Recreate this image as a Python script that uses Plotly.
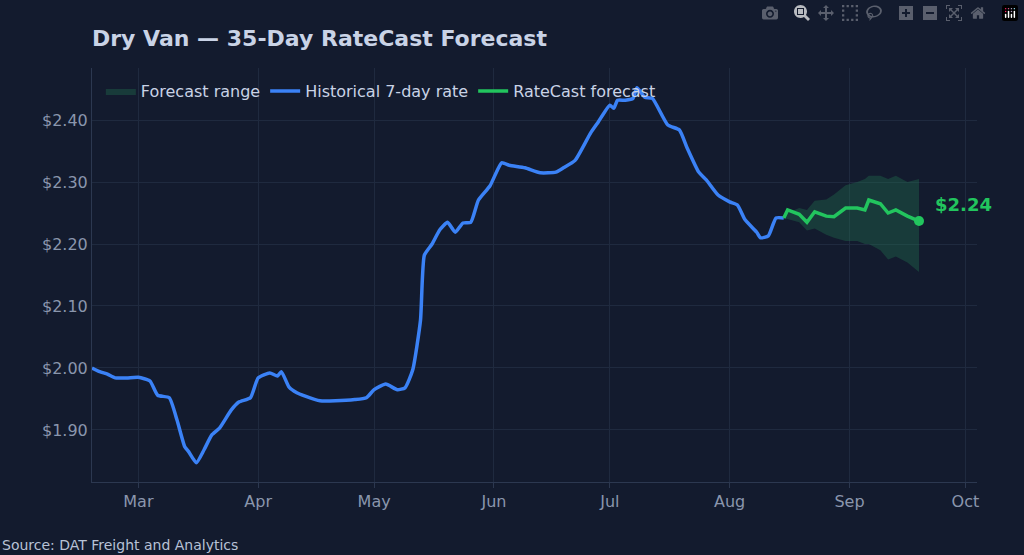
import plotly.graph_objects as go

hist_dates = ["2024-02-18","2024-02-20","2024-02-22","2024-02-24","2024-02-27","2024-03-01","2024-03-04","2024-03-06","2024-03-09","2024-03-11","2024-03-13","2024-03-14","2024-03-16","2024-03-18","2024-03-20","2024-03-22","2024-03-25","2024-03-27","2024-03-30","2024-04-01","2024-04-04","2024-04-06","2024-04-07","2024-04-09","2024-04-11","2024-04-13","2024-04-17","2024-04-21","2024-04-26","2024-04-29","2024-05-01","2024-05-04","2024-05-07","2024-05-09","2024-05-11","2024-05-13","2024-05-14","2024-05-16","2024-05-18","2024-05-20","2024-05-22","2024-05-24","2024-05-26","2024-05-28","2024-05-31","2024-06-03","2024-06-05","2024-06-09","2024-06-13","2024-06-17","2024-06-19","2024-06-22","2024-06-26","2024-06-28","2024-07-01","2024-07-02","2024-07-03","2024-07-05","2024-07-07","2024-07-08","2024-07-10","2024-07-12","2024-07-16","2024-07-19","2024-07-21","2024-07-24","2024-07-26","2024-07-29","2024-08-01","2024-08-03","2024-08-05","2024-08-08","2024-08-09","2024-08-11","2024-08-13","2024-08-15"]
hist_vals = [2.00,1.994,1.99,1.984,1.984,1.985,1.979,1.956,1.952,1.916,1.873,1.865,1.847,1.868,1.892,1.903,1.932,1.945,1.952,1.984,1.992,1.987,1.994,1.969,1.96,1.955,1.947,1.947,1.949,1.952,1.965,1.974,1.965,1.968,1.997,2.077,2.182,2.20,2.223,2.235,2.219,2.234,2.235,2.271,2.294,2.331,2.327,2.323,2.315,2.316,2.323,2.335,2.379,2.397,2.424,2.419,2.432,2.432,2.435,2.452,2.437,2.435,2.392,2.384,2.355,2.316,2.303,2.279,2.268,2.263,2.239,2.219,2.21,2.213,2.242,2.242]

fc_dates = ["2024-08-15","2024-08-16","2024-08-19","2024-08-21","2024-08-23","2024-08-26","2024-08-28","2024-08-31","2024-09-03","2024-09-05","2024-09-06","2024-09-09","2024-09-11","2024-09-13","2024-09-16","2024-09-19"]
fc_vals = [2.242,2.255,2.248,2.235,2.252,2.245,2.244,2.258,2.258,2.255,2.271,2.265,2.25,2.255,2.245,2.237]
fc_upper = [2.242,2.25,2.258,2.255,2.27,2.272,2.28,2.295,2.30,2.305,2.31,2.31,2.305,2.31,2.30,2.305]
fc_lower = [2.242,2.24,2.235,2.222,2.225,2.215,2.21,2.205,2.205,2.20,2.20,2.19,2.175,2.18,2.17,2.155]

bg = "#131b2e"
grid = "#1f2a3f"
txt = "#8a96ad"
green = "#22c55e"
blue = "#3b82f6"

fig = go.Figure()
fig.add_trace(go.Scatter(x=fc_dates, y=fc_upper, mode="lines", line=dict(width=0), showlegend=False, hoverinfo="skip"))
fig.add_trace(go.Scatter(x=fc_dates, y=fc_lower, mode="lines", line=dict(width=0), fill="tonexty",
                         fillcolor="rgba(34,120,80,0.35)", name="Forecast range"))
fig.add_trace(go.Scatter(x=hist_dates, y=hist_vals, mode="lines", line=dict(color=blue, width=3.5, shape="spline", smoothing=0.5),
                         name="Historical 7-day rate"))
fig.add_trace(go.Scatter(x=fc_dates, y=fc_vals, mode="lines", line=dict(color=green, width=3.5),
                         name="RateCast forecast"))
fig.add_trace(go.Scatter(x=[fc_dates[-1]], y=[fc_vals[-1]], mode="markers", marker=dict(color=green, size=10), showlegend=False))
fig.add_annotation(x=fc_dates[-1], y=fc_vals[-1], text="<b>$2.24</b>", showarrow=False, xshift=14, yshift=4,
                   xanchor="left", yanchor="bottom", font=dict(color=green, size=18))
fig.add_annotation(x=-92/885, y=-73/414, xref="paper", yref="paper", xanchor="left", yanchor="bottom",
                   text="Source: DAT Freight and Analytics", showarrow=False, font=dict(color="#b8c2d6", size=14))

fig.update_layout(
    width=1024, height=555, paper_bgcolor=bg, plot_bgcolor=bg,
    margin=dict(l=92, r=47, t=68, b=73),
    font=dict(family="DejaVu Sans", color=txt, size=15),
    title=dict(text="<b>Dry Van — 35-Day RateCast Forecast</b>", x=92/1024, xanchor="left", y=1-38/555, yanchor="middle",
               font=dict(color="#c9d3e6", size=22)),
    legend=dict(orientation="h", x=0.01, y=0.985, xanchor="left", yanchor="top", traceorder="normal",
                font=dict(color="#c9d3e6", size=16), bgcolor="rgba(0,0,0,0)"),
    xaxis=dict(range=["2024-02-18","2024-10-04"], tickvals=["2024-03-01","2024-04-01","2024-05-01","2024-06-01","2024-07-01","2024-08-01","2024-09-01","2024-10-01"],
               ticktext=["Mar","Apr","May","Jun","Jul","Aug","Sep","Oct"], showgrid=True, gridcolor=grid,
               showline=True, linecolor="#2c3850", ticks="outside", tickcolor="#2c3850", ticklen=5, zeroline=False,
               tickfont=dict(size=16)),
    yaxis=dict(range=[1.816, 2.484], tickvals=[1.9,2.0,2.1,2.2,2.3,2.4], tickformat="$.2f", showgrid=True, gridcolor=grid,
               showline=True, linecolor="#2c3850", zeroline=False, tickfont=dict(size=16)),
    showlegend=True,
)
fig.write_html("out.html")
with open("out.html", encoding="utf-8") as f:
    html = f.read()
html = html.replace("<head>", "<head><style>html,body{margin:0;padding:0;background:#131b2e;overflow:hidden}</style>", 1)
with open("out.html", "w", encoding="utf-8") as f:
    f.write(html)
